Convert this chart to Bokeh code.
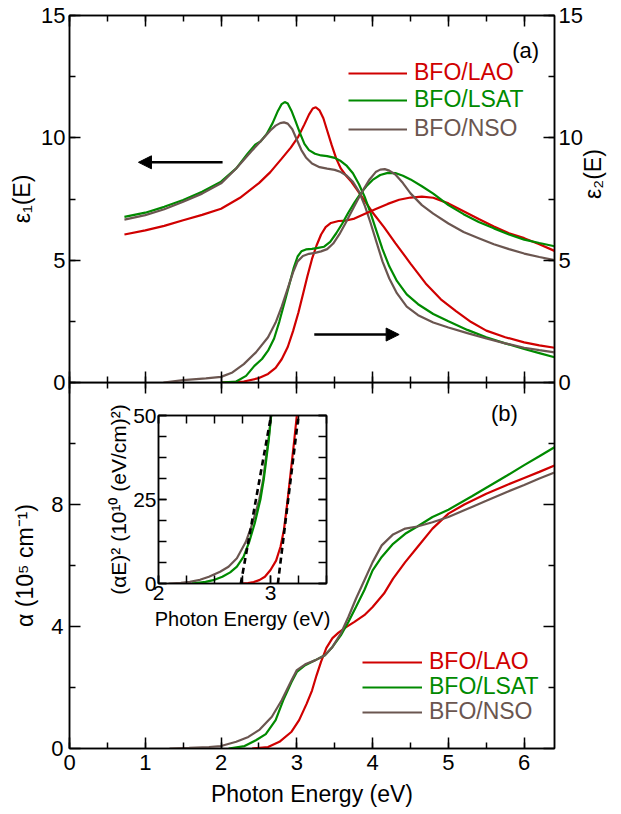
import math
from bokeh.plotting import figure
from bokeh.models import (Range1d, LinearAxis, SingleIntervalTicker, FixedTicker, Legend,
                          LegendItem, Arrow, NormalHead, Label, GridBox, CustomJSTickFormatter)
from bokeh.embed import file_html
from bokeh.resources import INLINE

FONT = "Liberation Sans"
RED, GREEN, BROWN = "#d00000", "#008a00", "#6b5650"
NAMES = ["BFO/LAO", "BFO/LSAT", "BFO/NSO"]

# ---------------- data: epsilon_1 ----------------
E1_LAO_X = [0.725, 1.0, 1.25, 1.5, 1.75, 2.0, 2.25, 2.5, 2.65, 2.8, 2.92, 3.02, 3.1, 3.16, 3.21, 3.25, 3.3, 3.35, 3.4, 3.46, 3.52, 3.58, 3.65, 3.72, 3.8, 3.9, 4.0, 4.15, 4.3, 4.5, 4.7, 4.9, 5.1, 5.3, 5.5, 5.75, 6.0, 6.2, 6.4]
E1_LAO_Y = [6.05, 6.22, 6.4, 6.63, 6.85, 7.1, 7.55, 8.15, 8.6, 9.15, 9.6, 10.05, 10.55, 10.95, 11.2, 11.25, 11.12, 10.8, 10.3, 9.7, 9.15, 8.75, 8.45, 8.2, 7.85, 7.4, 6.95, 6.35, 5.7, 4.86, 4.05, 3.4, 2.92, 2.47, 2.12, 1.85, 1.64, 1.52, 1.42]
E1_LSAT_X = [0.725, 1.0, 1.25, 1.5, 1.75, 2.0, 2.2, 2.35, 2.45, 2.52, 2.6, 2.68, 2.75, 2.8, 2.84, 2.88, 2.93, 2.98, 3.04, 3.1, 3.16, 3.24, 3.32, 3.4, 3.5, 3.58, 3.66, 3.74, 3.82, 3.9, 3.97, 4.05, 4.13, 4.22, 4.32, 4.45, 4.6, 4.8, 5.0, 5.25, 5.5, 5.75, 6.0, 6.2, 6.4]
E1_LSAT_Y = [6.77, 6.94, 7.18, 7.46, 7.8, 8.21, 8.75, 9.35, 9.72, 9.85, 10.15, 10.6, 11.1, 11.38, 11.46, 11.4, 11.1, 10.7, 10.2, 9.75, 9.5, 9.35, 9.28, 9.25, 9.18, 9.05, 8.85, 8.55, 8.1, 7.55, 6.95, 6.2, 5.45, 4.75, 4.15, 3.6, 3.2, 2.8, 2.5, 2.15, 1.85, 1.6, 1.37, 1.2, 1.03]
E1_NSO_X = [0.725, 1.0, 1.25, 1.5, 1.75, 2.0, 2.2, 2.4, 2.55, 2.65, 2.72, 2.78, 2.83, 2.88, 2.94, 3.0, 3.06, 3.12, 3.2, 3.3, 3.4, 3.5, 3.58, 3.66, 3.74, 3.82, 3.9, 3.97, 4.05, 4.13, 4.22, 4.32, 4.45, 4.6, 4.8, 5.0, 5.25, 5.5, 5.75, 6.0, 6.2, 6.4]
E1_NSO_Y = [6.66, 6.84, 7.08, 7.39, 7.72, 8.14, 8.75, 9.45, 9.95, 10.3, 10.5, 10.6, 10.63, 10.58, 10.35, 9.92, 9.5, 9.2, 8.95, 8.8, 8.74, 8.69, 8.6, 8.45, 8.2, 7.8, 7.2, 6.55, 5.75, 4.95, 4.25, 3.65, 3.1, 2.75, 2.45, 2.25, 2.02, 1.8, 1.6, 1.42, 1.32, 1.23]

# ---------------- data: epsilon_2 ----------------
E2_LAO_X = [2.0, 2.3, 2.5, 2.62, 2.72, 2.8, 2.88, 2.95, 3.02, 3.08, 3.14, 3.2, 3.26, 3.32, 3.38, 3.45, 3.55, 3.65, 3.76, 3.9, 4.05, 4.2, 4.35, 4.5, 4.65, 4.8, 5.0, 5.2, 5.4, 5.6, 5.8, 6.0, 6.2, 6.4]
E2_LAO_Y = [0.0, 0.04, 0.18, 0.35, 0.6, 0.95, 1.45, 2.1, 2.85, 3.6, 4.35, 5.05, 5.6, 6.05, 6.35, 6.52, 6.6, 6.62, 6.7, 6.9, 7.1, 7.3, 7.47, 7.56, 7.6, 7.55, 7.32, 7.0, 6.68, 6.38, 6.1, 5.9, 5.65, 5.38]
E2_LSAT_X = [2.0, 2.2, 2.33, 2.44, 2.54, 2.62, 2.7, 2.77, 2.84, 2.9, 2.96, 3.01, 3.06, 3.12, 3.2, 3.28, 3.36, 3.44, 3.52, 3.6, 3.68, 3.76, 3.84, 3.92, 4.0, 4.1, 4.2, 4.3, 4.4, 4.5, 4.65, 4.8, 5.0, 5.2, 5.4, 5.6, 5.8, 6.0, 6.2, 6.4]
E2_LSAT_Y = [0.0, 0.04, 0.27, 0.68, 0.96, 1.3, 1.8, 2.5, 3.3, 4.0, 4.7, 5.15, 5.36, 5.44, 5.46, 5.5, 5.55, 5.75, 6.1, 6.5, 6.95, 7.35, 7.72, 8.03, 8.28, 8.48, 8.57, 8.56, 8.45, 8.3, 8.02, 7.72, 7.25, 6.88, 6.56, 6.3, 6.05, 5.84, 5.7, 5.57]
E2_NSO_X = [1.24, 1.5, 1.8, 2.0, 2.15, 2.3, 2.46, 2.62, 2.72, 2.8, 2.88, 2.95, 3.01, 3.08, 3.16, 3.24, 3.32, 3.4, 3.48, 3.56, 3.64, 3.72, 3.8, 3.88, 3.96, 4.04, 4.1, 4.16, 4.22, 4.3, 4.4, 4.5, 4.65, 4.8, 5.0, 5.2, 5.4, 5.6, 5.8, 6.0, 6.2, 6.4]
E2_NSO_Y = [0.0, 0.1, 0.17, 0.23, 0.41, 0.75, 1.23, 1.85, 2.45, 3.1, 3.85, 4.5, 4.95, 5.17, 5.26, 5.3, 5.36, 5.45, 5.68, 6.05, 6.5, 6.98, 7.45, 7.9, 8.3, 8.6, 8.7, 8.72, 8.66, 8.5, 8.15, 7.73, 7.25, 6.9, 6.5, 6.15, 5.9, 5.65, 5.45, 5.27, 5.13, 5.0]

# ---------------- data: absorption alpha (1e5 cm^-1) ----------------
A_LAO_X = [2.41, 2.62, 2.77, 2.93, 3.03, 3.13, 3.2, 3.26, 3.32, 3.39, 3.47, 3.55, 3.65, 3.76, 3.89, 4.0, 4.15, 4.27, 4.43, 4.59, 4.79, 5.0, 5.21, 5.5, 5.78, 6.0, 6.2, 6.4]
A_LAO_Y = [0.0, 0.05, 0.22, 0.55, 0.93, 1.47, 1.9, 2.4, 2.85, 3.3, 3.62, 3.8, 3.98, 4.15, 4.37, 4.64, 5.08, 5.57, 6.11, 6.6, 7.21, 7.7, 8.0, 8.35, 8.65, 8.87, 9.07, 9.28]
A_LSAT_X = [2.1, 2.31, 2.46, 2.59, 2.72, 2.82, 2.93, 3.0, 3.11, 3.24, 3.37, 3.47, 3.58, 3.68, 3.78, 3.89, 4.0, 4.12, 4.27, 4.43, 4.59, 4.79, 5.0, 5.31, 5.5, 5.78, 6.0, 6.2, 6.4]
A_LSAT_Y = [0.0, 0.08, 0.27, 0.47, 0.93, 1.58, 2.18, 2.51, 2.73, 2.89, 3.06, 3.33, 3.71, 4.15, 4.64, 5.19, 5.84, 6.28, 6.71, 7.04, 7.28, 7.59, 7.83, 8.27, 8.55, 8.96, 9.29, 9.58, 9.88]
A_NSO_X = [1.32, 1.58, 1.84, 2.0, 2.2, 2.36, 2.51, 2.67, 2.8, 2.93, 3.0, 3.11, 3.24, 3.37, 3.47, 3.58, 3.68, 3.78, 3.89, 4.0, 4.12, 4.27, 4.43, 4.59, 4.79, 5.0, 5.31, 5.5, 5.78, 6.0, 6.2, 6.4]
A_NSO_Y = [0.0, 0.02, 0.05, 0.08, 0.22, 0.38, 0.62, 1.04, 1.58, 2.24, 2.57, 2.76, 2.89, 3.06, 3.33, 3.77, 4.31, 4.91, 5.51, 6.11, 6.66, 7.02, 7.21, 7.28, 7.42, 7.59, 7.92, 8.12, 8.42, 8.64, 8.85, 9.05]

# ---------------- data: inset (alpha E)^2 (1e10 (eV/cm)^2) ----------------
I_LAO_X = [2.74, 2.8, 2.85, 2.9, 2.95, 3.0, 3.05, 3.09, 3.12, 3.15, 3.18, 3.21, 3.235]
I_LAO_Y = [0.0, 0.15, 0.45, 1.0, 2.0, 4.0, 6.8, 11.0, 16.0, 24.0, 33.0, 42.0, 50.0]
I_LSAT_X = [2.3, 2.42, 2.5, 2.57, 2.64, 2.7, 2.76, 2.81, 2.86, 2.91, 2.94, 2.965, 2.985, 3.006]
I_LSAT_Y = [0.0, 0.5, 1.1, 2.0, 3.3, 5.0, 8.0, 12.4, 18.0, 25.0, 31.0, 37.6, 43.0, 50.0]
I_NSO_X = [2.09, 2.2, 2.28, 2.37, 2.45, 2.55, 2.625, 2.7, 2.78, 2.84, 2.9, 2.935, 2.96, 2.983, 3.005]
I_NSO_Y = [0.0, 0.2, 0.5, 1.1, 2.0, 3.5, 5.0, 7.5, 12.4, 18.0, 25.0, 31.0, 37.6, 43.0, 50.0]
# linear band-gap extrapolations: (x at y=0, x at y=50)
FIT_X0 = [2.735, 3.066]
FIT_X1 = [3.005, 3.25]
FIT_Y = [0.0, 50.0]

LW = 2.2
TW = 1.5


def style_axis(ax, ticker, labels=True, size="22px", standoff=4, tick=11, minor=6, tick_out=0, minor_out=0):
    ax.ticker = ticker
    ax.major_tick_in = tick
    ax.major_tick_out = tick_out
    ax.minor_tick_in = minor
    ax.minor_tick_out = minor_out
    ax.axis_line_color = "black"
    ax.axis_line_width = TW
    ax.major_tick_line_color = "black"
    ax.minor_tick_line_color = "black"
    ax.major_tick_line_width = TW
    ax.minor_tick_line_width = TW
    ax.major_label_text_font = FONT
    ax.major_label_text_color = "black"
    ax.axis_label_text_font = FONT
    ax.axis_label_text_font_style = "normal"
    ax.axis_label_text_color = "black"
    if labels:
        ax.major_label_text_font_size = size
        ax.major_label_standoff = standoff
    else:
        ax.formatter = CustomJSTickFormatter(code="return ''")
        ax.major_label_text_font_size = "1px"
        ax.major_label_standoff = 0


def base_fig(**kw):
    p = figure(output_backend="svg", toolbar_location=None, **kw)
    p.grid.visible = False
    p.outline_line_color = "black"
    p.outline_line_width = TW
    p.outline_line_alpha = 1.0
    p.background_fill_color = "white"
    p.border_fill_alpha = 0.0
    return p


def colored_legends(p, renderers, x0, ys, glyph_w):
    for r, name, col, y in zip(renderers, NAMES, [RED, GREEN, BROWN], ys):
        leg = Legend(items=[LegendItem(label=name, renderers=[r])], location=(x0, y),
                     orientation="vertical", padding=0, margin=0, spacing=0,
                     glyph_width=glyph_w, glyph_height=26, label_height=26,
                     label_standoff=7, label_text_font=FONT, label_text_font_size="23px",
                     label_text_color=col, border_line_alpha=0, background_fill_alpha=0)
        p.add_layout(leg, "center")


XT = lambda: SingleIntervalTicker(interval=1, num_minor_ticks=2)

# ================= top panel (a) =================
p1 = base_fig(width=621, height=398, x_range=Range1d(0, 6.4), y_range=Range1d(0, 15),
              min_border_left=69, min_border_right=62, min_border_top=15, min_border_bottom=16)
p1.extra_y_ranges = {"e2": Range1d(0, 15)}
p1.add_layout(LinearAxis(y_range_name="e2", axis_label="ε₂(E)"), "right")
p1.add_layout(LinearAxis(), "above")
# bottom axis of (a): ticks cross the shared line (up into (a), down into (b))
style_axis(p1.below[0], XT(), labels=False, tick_out=11, minor_out=6)
style_axis(p1.above[0], XT(), labels=False)
for ax in p1.yaxis:
    style_axis(ax, SingleIntervalTicker(interval=5, num_minor_ticks=2), labels=True, standoff=4)
    ax.axis_label_text_font_size = "23px"
p1.yaxis[0].axis_label = "ε₁(E)"
p1.yaxis[0].axis_label_standoff = 3
p1.yaxis[1].axis_label_standoff = 7
p1.yaxis[1].axis_label_orientation = math.pi / 2

r1 = p1.line(E1_LAO_X, E1_LAO_Y, line_color=RED, line_width=LW)
r2 = p1.line(E1_LSAT_X, E1_LSAT_Y, line_color=GREEN, line_width=LW)
r3 = p1.line(E1_NSO_X, E1_NSO_Y, line_color=BROWN, line_width=LW)
p1.line(E2_LAO_X, E2_LAO_Y, line_color=RED, line_width=LW, y_range_name="e2")
p1.line(E2_LSAT_X, E2_LSAT_Y, line_color=GREEN, line_width=LW, y_range_name="e2")
p1.line(E2_NSO_X, E2_NSO_Y, line_color=BROWN, line_width=LW, y_range_name="e2")

colored_legends(p1, [r1, r2, r3], 279, [296, 269, 240], 59)

p1.add_layout(Arrow(end=NormalHead(size=13, fill_color="black", line_color="black"),
                    x_start=2.02, y_start=9.0, x_end=0.91, y_end=9.0,
                    line_width=2.6, line_color="black"))
p1.add_layout(Arrow(end=NormalHead(size=13, fill_color="black", line_color="black"),
                    x_start=3.23, y_start=1.96, x_end=4.35, y_end=1.96,
                    line_width=2.6, line_color="black", y_range_name="e2"))
p1.add_layout(Label(x=6.02, y=13.57, text="(a)", text_align="center", text_baseline="middle",
                    text_font=FONT, text_font_size="22px", text_color="black"))

# ================= bottom panel (b) =================
p2 = base_fig(width=621, height=432, x_range=p1.x_range, y_range=Range1d(0, 12),
              min_border_left=69, min_border_right=62, min_border_top=0, min_border_bottom=66)
p2.border_fill_alpha = 1.0
p2.border_fill_color = "white"
p2.add_layout(LinearAxis(), "right")
style_axis(p2.below[0], XT(), labels=True, standoff=6)
p2.below[0].axis_label = "Photon Energy (eV)"
p2.below[0].axis_label_text_font_size = "23px"
p2.below[0].axis_label_standoff = 8
style_axis(p2.left[0], FixedTicker(ticks=[0, 4, 8], minor_ticks=[2, 6, 10]), labels=True, standoff=6)
style_axis(p2.right[0], FixedTicker(ticks=[0, 4, 8], minor_ticks=[2, 6, 10]), labels=False)
p2.left[0].axis_label = "α (10⁵ cm⁻¹)"
p2.left[0].axis_label_text_font_size = "23px"
p2.left[0].axis_label_standoff = 10

a1 = p2.line(A_LAO_X, A_LAO_Y, line_color=RED, line_width=LW)
a2 = p2.line(A_LSAT_X, A_LSAT_Y, line_color=GREEN, line_width=LW)
a3 = p2.line(A_NSO_X, A_NSO_Y, line_color=BROWN, line_width=LW)
colored_legends(p2, [a1, a2, a3], 293, [73, 48, 23], 60)
p2.add_layout(Label(x=5.74, y=10.98, text="(b)", text_align="center", text_baseline="middle",
                    text_font=FONT, text_font_size="22px", text_color="black"))

# ================= inset =================
ins = base_fig(width=230, height=229, x_range=Range1d(2, 3.5), y_range=Range1d(0, 50),
               min_border_left=50, min_border_right=8, min_border_top=12, min_border_bottom=49)
ins.add_layout(LinearAxis(), "right")
ins.add_layout(LinearAxis(), "above")
IXT = lambda: SingleIntervalTicker(interval=1, num_minor_ticks=4)
IYT = lambda: SingleIntervalTicker(interval=25, num_minor_ticks=4)
style_axis(ins.below[0], IXT(), labels=True, size="21px", standoff=2, tick=8, minor=8)
style_axis(ins.above[0], IXT(), labels=False, tick=8, minor=8)
style_axis(ins.left[0], IYT(), labels=True, size="21px", standoff=2, tick=8, minor=8)
style_axis(ins.right[0], IYT(), labels=False, tick=8, minor=8)
ins.below[0].axis_label = "Photon Energy (eV)"
ins.below[0].axis_label_text_font_size = "20px"
ins.below[0].axis_label_standoff = 5
ins.left[0].axis_label = "(αE)² (10¹⁰ (eV/cm)²)"
ins.left[0].axis_label_text_font_size = "21px"
ins.left[0].axis_label_standoff = 0

ins.line(I_NSO_X, I_NSO_Y, line_color=BROWN, line_width=LW)
ins.line(I_LSAT_X, I_LSAT_Y, line_color=GREEN, line_width=LW)
ins.line(I_LAO_X, I_LAO_Y, line_color=RED, line_width=LW)
for x0, x1 in zip(FIT_X0, FIT_X1):
    ins.line([x0, x1], FIT_Y, line_color="black", line_width=2.6, line_dash="6 4")

layout = GridBox(children=[(p2, 1, 0, 3, 3), (p1, 0, 0, 2, 3), (ins, 2, 1, 1, 1)],
                 rows=["382px", "21px", "229px", "182px"],
                 cols=["104px", "230px", "287px"], spacing=0)

open("out.html", "w").write(file_html(layout, INLINE))
